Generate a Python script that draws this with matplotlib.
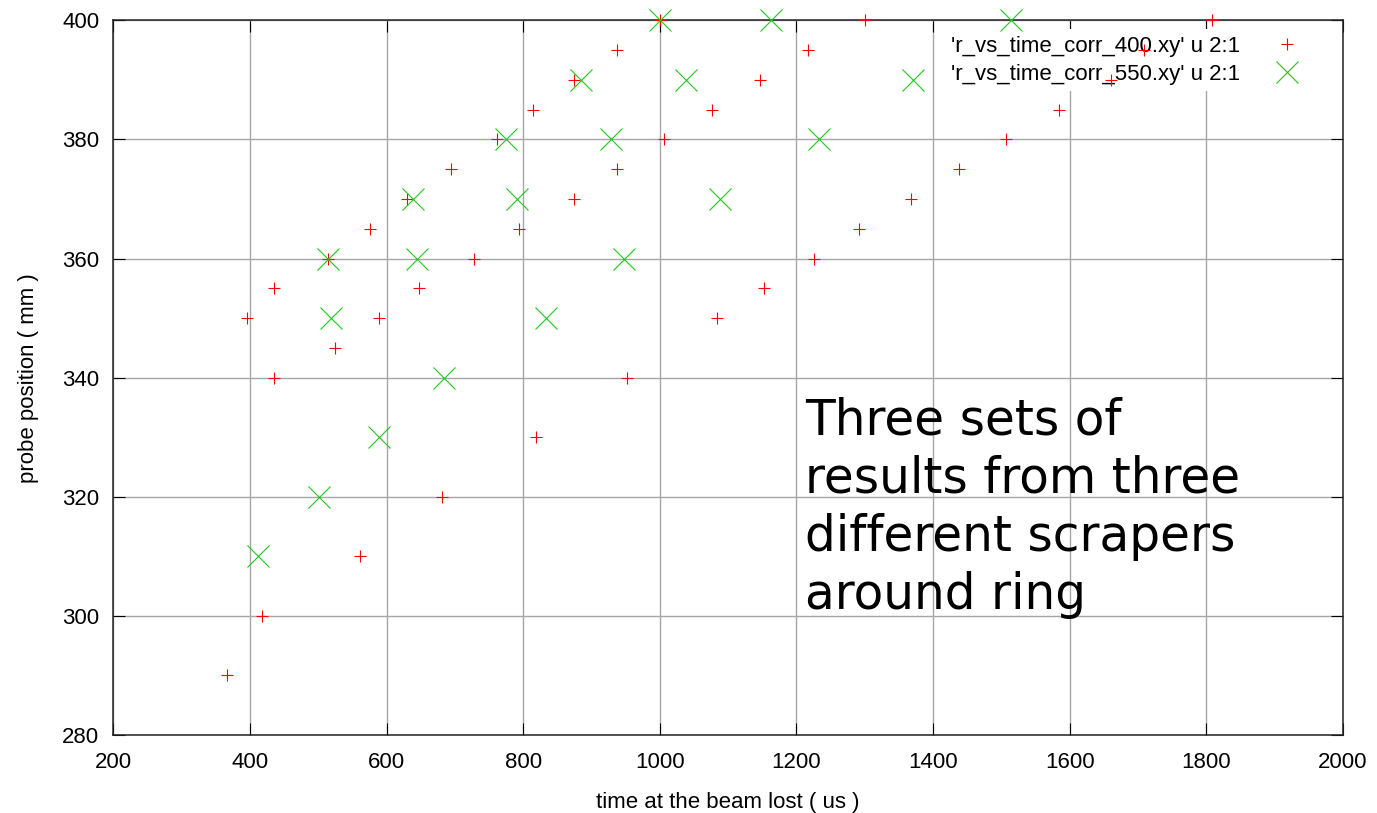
import matplotlib
matplotlib.use("Agg")
import matplotlib.pyplot as plt

# r_vs_time_corr_400.xy : time at beam loss (us) vs probe position (mm)
time_400 = [367, 418, 561, 681, 819,
            435, 952, 525,
            395, 589, 1084,
            435, 648, 1152,
            514, 728, 1225,
            575, 794, 1292,
            630, 875, 1367,
            694, 937, 1438,
            762, 1006, 1506,
            815, 1076, 1584,
            874, 1147, 1661,
            938, 1217, 1708,
            1000, 1300, 1808]
pos_400 = [290, 300, 310, 320, 330,
           340, 340, 345,
           350, 350, 350,
           355, 355, 355,
           360, 360, 360,
           365, 365, 365,
           370, 370, 370,
           375, 375, 375,
           380, 380, 380,
           385, 385, 385,
           390, 390, 390,
           395, 395, 395,
           400, 400, 400]

# r_vs_time_corr_550.xy
time_550 = [412, 501, 589, 684,
            519, 834,
            514, 645, 947,
            638, 791, 1088,
            775, 928, 1233,
            884, 1038, 1370,
            1000, 1163, 1514]
pos_550 = [310, 320, 330, 340,
           350, 350,
           360, 360, 360,
           370, 370, 370,
           380, 380, 380,
           390, 390, 390,
           400, 400, 400]

labels = ["'r_vs_time_corr_400.xy' u 2:1", "'r_vs_time_corr_550.xy' u 2:1"]
x_ticks = list(range(200, 2001, 200))
y_ticks = list(range(280, 401, 20))
note = "Three sets of\nresults from three\ndifferent scrapers\naround ring"

plt.rcParams['font.family'] = ['Liberation Sans', 'DejaVu Sans']

fig = plt.figure(figsize=(13.77, 8.13), dpi=100)
ax = fig.add_axes([0.0823, 0.0960, 0.8930, 0.8790])

ax.set_xlim(200, 2000)
ax.set_ylim(280, 400)
ax.set_xticks(x_ticks)
ax.set_yticks(y_ticks)

ax.set_axisbelow(True)
ax.grid(True, color='#a6a6a6', linewidth=1.0)

ax.plot(time_400, pos_400, linestyle='none', marker='+', markersize=8.8,
        markeredgewidth=0.8, color='#ff0000', label=labels[0],
        clip_on=False, zorder=3)
ax.plot(time_550, pos_550, linestyle='none', marker='x', markersize=16.5,
        markeredgewidth=0.8, color='#1ec81e', label=labels[1],
        clip_on=False, zorder=3)

for s in ax.spines.values():
    s.set_linewidth(1.1)
    s.set_color('#222222')

ax.tick_params(axis='both', which='major', direction='in', length=8.6,
               width=0.8, top=True, right=True, labelsize=16)
ax.tick_params(axis='x', pad=12)
ax.tick_params(axis='y', pad=10)

ax.set_xlabel('time at the beam lost ( us )', fontsize=16, labelpad=14)
ax.set_ylabel('probe position ( mm )', fontsize=16, labelpad=17)

leg = ax.legend(loc='upper right', bbox_to_anchor=(0.9795, 0.988),
                markerfirst=False, frameon=True, fontsize=16,
                borderaxespad=0.0, borderpad=0.3, labelspacing=0.32,
                handlelength=2.2, handletextpad=1.0, fancybox=False)
leg.get_frame().set_facecolor('white')
leg.get_frame().set_edgecolor('none')
leg.get_frame().set_alpha(1.0)
leg.set_zorder(1.5)

ax.text(0.5624, 0.474, note, transform=ax.transAxes, fontsize=35,
        family='DejaVu Sans', ha='left', va='top', linespacing=1.27,
        color='black', zorder=4)

fig.savefig('out.png', dpi=100)
